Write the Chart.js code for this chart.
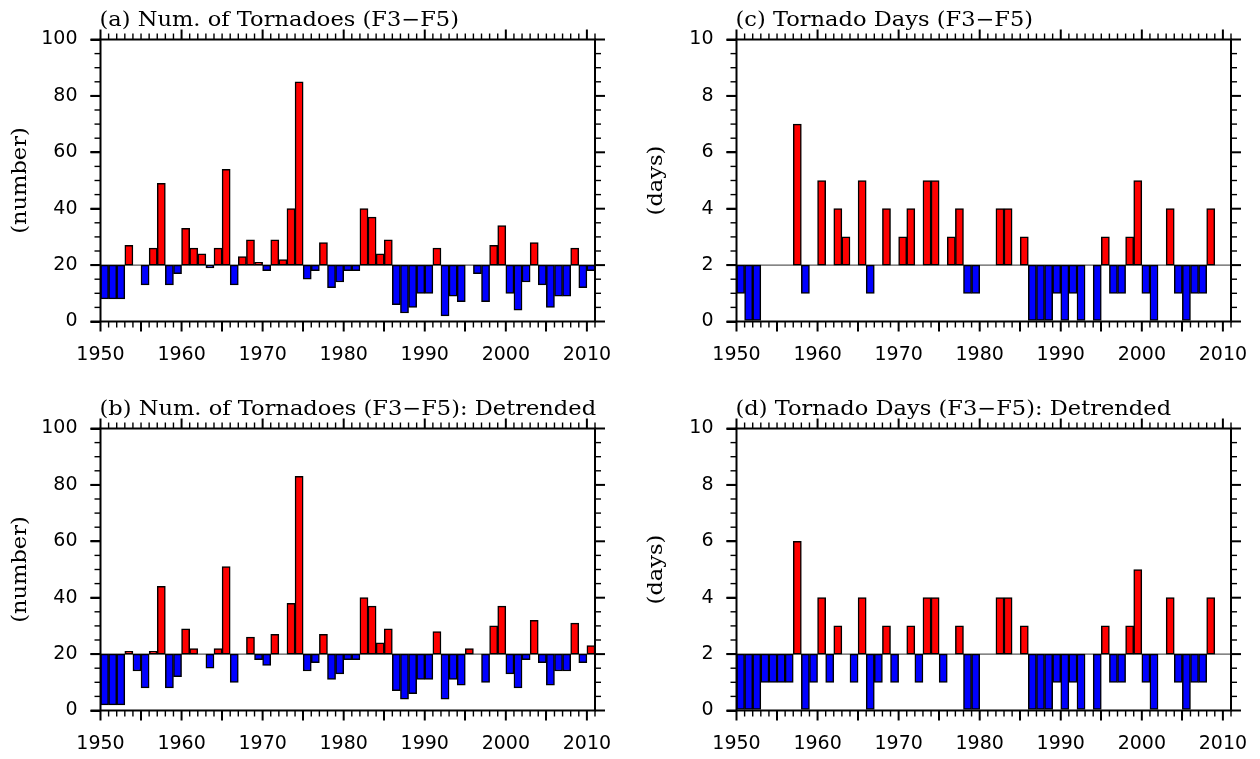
<!DOCTYPE html>
<html>
<head>
<meta charset="utf-8">
<script src="https://cdn.jsdelivr.net/npm/chart.js@4"></script>
<style>
  html, body { margin: 0; padding: 0; background: #fff; width: 1260px; height: 759px; overflow: hidden; }
  canvas { position: absolute; }
</style>
</head>
<body>
<canvas id="panelA" width="630" height="380" style="left:0;top:0"></canvas>
<canvas id="panelC" width="624" height="380" style="left:636px;top:0"></canvas>
<canvas id="panelB" width="630" height="370" style="left:0;top:389px"></canvas>
<canvas id="panelD" width="624" height="370" style="left:636px;top:389px"></canvas>
<script>
const years = Array.from({ length: 61 }, (_, i) => 1950 + i);

// F3-F5 tornado counts, baseline 20
const tornadoCount = [
  8, 8, 8, 27, 20, 13, 26, 49, 13, 17,
  33, 26, 24, 19, 26, 54, 13, 23, 29, 21,
  18, 29, 22, 40, 85, 15, 18, 28, 12, 14,
  18, 18, 40, 37, 24, 29, 6, 3, 5, 10,
  10, 26, 2, 9, 7, 20, 17, 7, 27, 34,
  10, 4, 14, 28, 13, 5, 9, 9, 26, 12, 18
];
const tornadoCountDetrended = [
  2, 2, 2, 21, 14, 8, 21, 44, 8, 12,
  29, 22, 20, 15, 22, 51, 10, 20, 26, 18,
  16, 27, 20, 38, 83, 14, 17, 27, 11, 13,
  18, 18, 40, 37, 24, 29, 7, 4, 6, 11,
  11, 28, 4, 11, 9, 22, 20, 10, 30, 37,
  13, 8, 18, 32, 17, 9, 14, 14, 31, 17, 23
];
// F3-F5 tornado days, baseline 2
const tornadoDays = [
  1, 0, 0, 2, 2, 2, 2, 7, 1, 2,
  5, 2, 4, 3, 2, 5, 1, 2, 4, 2,
  3, 4, 2, 5, 5, 2, 3, 4, 1, 1,
  2, 2, 4, 4, 2, 3, 0, 0, 0, 1,
  0, 1, 0, 2, 0, 3, 1, 1, 3, 5,
  1, 0, 2, 4, 1, 0, 1, 1, 4, 2, 2
];
const tornadoDaysDetrended = [
  0, 0, 0, 1, 1, 1, 1, 6, 0, 1,
  4, 1, 3, 2, 1, 4, 0, 1, 3, 1,
  2, 3, 1, 4, 4, 1, 2, 3, 0, 0,
  2, 2, 4, 4, 2, 3, 0, 0, 0, 1,
  0, 1, 0, 2, 0, 3, 1, 1, 3, 5,
  1, 0, 2, 4, 1, 0, 1, 1, 4, 2, 2
];

const yearTicks = [1950, 1960, 1970, 1980, 1990, 2000, 2010];
const countTicks = [0, 20, 40, 60, 80, 100];
const dayTicks = [0, 2, 4, 6, 8, 10];

const labelFont = { family: '"DejaVu Sans"', size: 19 };

// frame, mirrored ticks, minor ticks, baseline, titles
const framePlugin = {
  id: 'frame',
  beforeDatasetsDraw(chart, args, opts) {
    const { ctx, chartArea: a, scales: { y } } = chart;
    const yb = y.getPixelForValue(opts.base);
    ctx.save();
    ctx.strokeStyle = '#333';
    ctx.lineWidth = 1;
    ctx.beginPath();
    ctx.moveTo(a.left, yb);
    ctx.lineTo(a.right, yb);
    ctx.stroke();
    ctx.restore();
  },
  afterDraw(chart, args, opts) {
    const { ctx, chartArea: a, scales: { x, y } } = chart;
    ctx.save();
    ctx.strokeStyle = '#000';

    const tick = (x0, y0, x1, y1, w) => {
      ctx.lineWidth = w;
      ctx.beginPath();
      ctx.moveTo(x0, y0);
      ctx.lineTo(x1, y1);
      ctx.stroke();
    };

    for (let v = x.min; v <= x.max; v++) {
      const px = x.getPixelForValue(v);
      const major = yearTicks.includes(v);
      const len = major ? 10 : 6;
      const w = major ? 2 : 1.4;
      tick(px, a.top, px, a.top - len, w);
      tick(px, a.bottom, px, a.bottom + len, w);
    }
    const n = Math.round(y.max / opts.minor);
    for (let k = 0; k <= n; k++) {
      const v = k * opts.minor;
      const py = y.getPixelForValue(v);
      const major = opts.yTicks.includes(v);
      const len = major ? 10 : 6;
      const w = major ? 2 : 1.4;
      tick(a.left, py, a.left - len, py, w);
      tick(a.right, py, a.right + len, py, w);
    }

    ctx.lineWidth = 2;
    ctx.strokeRect(a.left, a.top, a.right - a.left, a.bottom - a.top);

    // wide serif text, stretched along the writing direction
    const stretch = 1.1;
    ctx.fillStyle = '#000';
    ctx.font = '20.5px "DejaVu Serif"';
    ctx.textAlign = 'left';
    ctx.textBaseline = 'alphabetic';
    ctx.save();
    ctx.translate(a.left - 1, a.top - 14);
    ctx.scale(stretch, 1);
    ctx.fillText(opts.title, 0, 0);
    ctx.restore();

    ctx.translate(21, (a.top + a.bottom) / 2);
    ctx.rotate(-Math.PI / 2);
    ctx.scale(stretch, 1);
    ctx.textAlign = 'center';
    ctx.textBaseline = 'middle';
    ctx.fillText(opts.yTitle, 0, 0);
    ctx.restore();
  }
};

function makePanel(id, title, yTitle, values, base, yTicks, minor) {
  const canvas = document.getElementById(id);
  const H = canvas.height;
  const W = canvas.width;
  const points = years
    .map((yr, i) => ({ x: yr + 0.5, y: [base, values[i]] }))
    .filter(p => p.y[1] !== base);

  new Chart(canvas, {
    type: 'bar',
    data: {
      datasets: [{
        data: points,
        backgroundColor: c => (c.raw && c.raw.y[1] > base ? '#ff0000' : '#0000ff'),
        borderColor: '#000',
        borderWidth: 1.5,
        borderSkipped: false,
        barPercentage: 1,
        categoryPercentage: 1
      }]
    },
    options: {
      responsive: false,
      animation: false,
      devicePixelRatio: 1,
      layout: { padding: { top: 39.5, right: W - 595, left: 0, bottom: 0 } },
      scales: {
        x: {
          type: 'linear',
          min: 1950,
          max: 2011,
          offset: false,
          afterBuildTicks: s => { s.ticks = yearTicks.map(v => ({ value: v })); },
          afterFit: s => { s.height = H - 321.5; },
          ticks: {
            color: '#000', font: labelFont, padding: 12,
            maxRotation: 0, autoSkip: false, includeBounds: false,
            callback: v => String(v)
          },
          grid: { drawOnChartArea: false, color: '#000', lineWidth: 2, tickLength: 10 },
          border: { display: false }
        },
        y: {
          min: 0,
          max: yTicks[yTicks.length - 1],
          afterBuildTicks: s => { s.ticks = yTicks.map(v => ({ value: v })); },
          afterFit: s => { s.width = 100.5; },
          ticks: { color: '#000', font: labelFont, padding: 13, callback: v => String(v) },
          grid: { drawOnChartArea: false, color: '#000', lineWidth: 2, tickLength: 10 },
          border: { display: false }
        }
      },
      plugins: {
        legend: { display: false },
        tooltip: { enabled: false },
        frame: { base, title, yTitle, minor, yTicks }
      }
    },
    plugins: [framePlugin]
  });
}

makePanel('panelA', '(a) Num. of Tornadoes (F3\u2212F5)', '(number)', tornadoCount, 20, countTicks, 5);
makePanel('panelB', '(b) Num. of Tornadoes (F3\u2212F5): Detrended', '(number)', tornadoCountDetrended, 20, countTicks, 5);
makePanel('panelC', '(c) Tornado Days (F3\u2212F5)', '(days)', tornadoDays, 2, dayTicks, 0.5);
makePanel('panelD', '(d) Tornado Days (F3\u2212F5): Detrended', '(days)', tornadoDaysDetrended, 2, dayTicks, 0.5);
</script>
</body>
</html>
